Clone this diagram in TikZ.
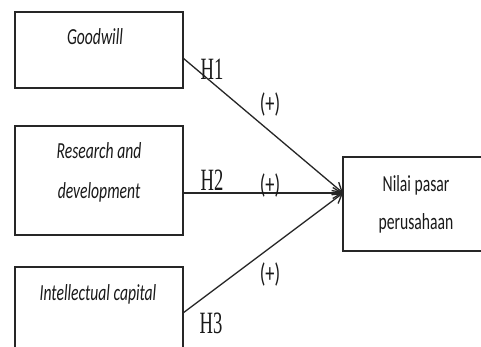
\documentclass[tikz,border=0pt]{standalone}
\usepackage{fontspec}
\newfontfamily\calfont[FakeStretch=0.68]{Carlito}
\newfontfamily\hfont[FakeStretch=0.6]{Liberation Serif}
\usetikzlibrary{arrows.meta}
\begin{document}
\begin{tikzpicture}[x=1pt,y=-1pt,
  box/.style={draw=black!85,line width=1.5pt,rectangle,inner sep=0pt},
  boxtext/.style={font=\calfont\itshape\fontsize{23}{40}\selectfont,align=center,inner sep=0pt,text=black!90},
  plainbox/.style={font=\calfont\fontsize{23}{38}\selectfont,align=center,inner sep=0pt,text=black!90},
  hlab/.style={font=\hfont\fontsize{31}{31}\selectfont,inner sep=0pt,text=black!90},
  sign/.style={font=\calfont\fontsize{27}{27}\selectfont,inner sep=0pt,text=black!90},
  link/.style={draw=black!85,line width=1.3pt,-{Straight Barb[length=9pt,width=11pt,line width=1.3pt]}}]
\clip (0,0) rectangle (481,347);
\fill[white] (0,0) rectangle (481,347);
% boxes
\node[box,minimum width=168pt,minimum height=76pt] (g) at (99,50) {};
\node[box,minimum width=168pt,minimum height=109pt] (r) at (99,180.5) {};
\node[box,minimum width=168pt,minimum height=110pt] (ic) at (99,322) {};
\node[box,minimum width=150pt,minimum height=94pt] (n) at (418,204) {};
% texts
\node[boxtext] (gt) at (95,37) {Goodwill};
\node[boxtext] (rt) at (99,172.5) {Research and\\development};
\node[boxtext] (ict) at (98,294) {Intellectual capital};
\node[plainbox] (nt) at (416,204) {Nilai pasar\\perusahaan};
% connector ends
\coordinate (s1) at (183,58);
\coordinate (s2) at (183,193);
\coordinate (s3) at (183,313);
\coordinate (t) at (343,193);
\draw[link] (s1) -- (t);
\draw[link] (s2) -- (t);
\draw[link] (s3) -- (t);
% labels
\node[hlab] (h1) at (212,69) {H1};
\node[hlab] (h2) at (212,180) {H2};
\node[hlab] (h3) at (211,323) {H3};
\node[sign] (p1) at (270,104) {(+)};
\node[sign] (p2) at (270,185) {(+)};
\node[sign] (p3) at (270,274) {(+)};
\end{tikzpicture}
\end{document}
